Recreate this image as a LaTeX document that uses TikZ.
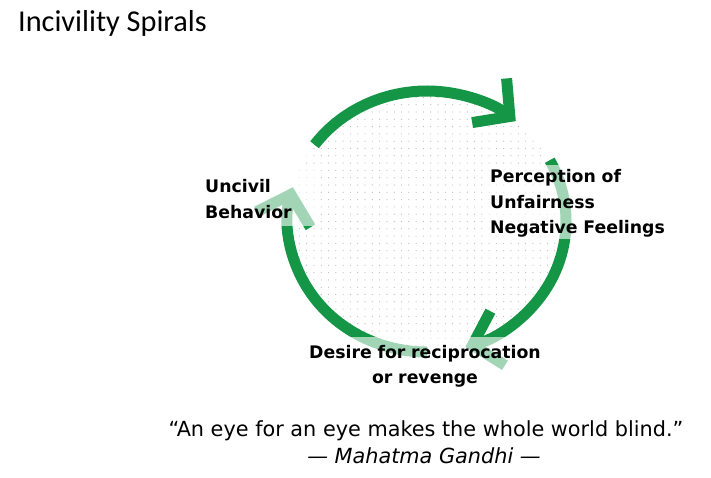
\documentclass[tikz,border=0pt]{standalone}
\usepackage{fontspec}
\setmainfont{DejaVu Sans}
\newfontfamily\titlefont{Carlito}
\usetikzlibrary{arrows.meta,patterns.meta}
\definecolor{dkgreen}{RGB}{20,150,70}
\definecolor{dotgray}{RGB}{185,185,185}
\begin{document}
\begin{tikzpicture}[x=1pt,y=1pt,
  arcline/.style={draw=dkgreen, line width=11pt, -{Straight Barb[length=26pt,width=56pt]}},
  veil/.style={fill=white, fill opacity=0.6, draw=none},
  lbl/.style={font=\bfseries\fontsize{17.3}{25.5}\selectfont, inner sep=0pt, align=left, text width=#1},
  quote/.style={font=\fontsize{20.8}{25}\selectfont, inner sep=0pt, anchor=base},
]
\useasboundingbox (0,0) rectangle (711,477);
\coordinate (c) at (427,255.5);
% dotted disc
\fill[pattern={Dots[distance=7.3pt,radius=0.6pt]}, pattern color=dotgray] (c) ellipse [x radius=139pt, y radius=130.5pt];
% the three arrows of the cycle
\draw[arcline] ([shift={(144:139pt and 130.5pt)}]c) arc[start angle=144, end angle=50.3, x radius=139pt, y radius=130.5pt];
\draw[arcline] ([shift={(28:139pt and 130.5pt)}]c) arc[start angle=28, end angle=-74, x radius=139pt, y radius=130.5pt];
\draw[arcline] ([shift={(270:139pt and 130.5pt)}]c) arc[start angle=270, end angle=164.8, x radius=139pt, y radius=130.5pt];
% translucent label backgrounds
\fill[veil] (200,251) rectangle (318,309);
\fill[veil] (485,238) rectangle (668,312);
\fill[veil] (300,85) rectangle (552,140);
% labels
\node[lbl=130pt, anchor=base west] (unc) at (205,284) {Uncivil\\Behavior};
\node[lbl=190pt, anchor=base west] (per) at (490,294) {Perception of\\Unfairness\\Negative Feelings};
\node[lbl=260pt, align=center, anchor=base] (des) at (425,119) {Desire for reciprocation\\or revenge};
% title and quote
\node[font=\titlefont\fontsize{30.3}{34}\selectfont, inner sep=0pt, anchor=base west] (title) at (18,445) {Incivility Spirals};
\node[quote] (q) at (426,41) {“An eye for an eye makes the whole world blind.”};
\node[quote, font=\itshape\fontsize{20.8}{25}\selectfont] (auth) at (424,14) {— Mahatma Gandhi —};
\end{tikzpicture}
\end{document}
